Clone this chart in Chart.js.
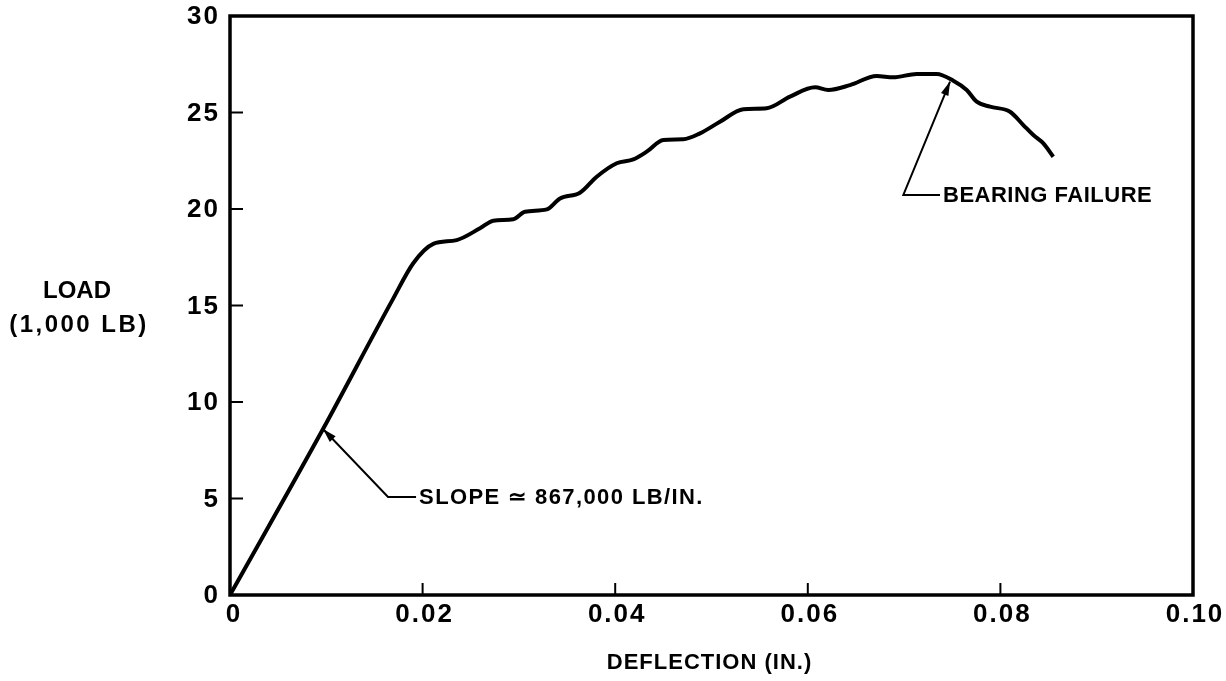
<!DOCTYPE html>
<html>
<head>
<meta charset="utf-8">
<script src="https://cdn.jsdelivr.net/npm/chart.js@4/dist/chart.umd.min.js"></script>
<style>
  html, body { margin: 0; padding: 0; background: #fff; }
  #wrap { width: 1226px; height: 681px; }
</style>
</head>
<body>
<div id="wrap"><canvas id="myChart" width="1226" height="681"></canvas></div>
<script>
// DATA
const deflection = [0, 0.00966, 0.01696, 0.01903, 0.02111, 0.02354, 0.02596, 0.02734, 0.02942, 0.03063,
  0.03289, 0.03427, 0.03634, 0.03808, 0.04016, 0.04188, 0.04327, 0.04500, 0.04707, 0.04881,
  0.05088, 0.05330, 0.05573, 0.05815, 0.06075, 0.06213, 0.06438, 0.06715, 0.06888, 0.07131,
  0.07338, 0.07511, 0.07650, 0.07754, 0.07892, 0.08100, 0.08238, 0.08342, 0.08446, 0.08549];
const load = [0, 8.6, 15.37, 17.19, 18.19, 18.39, 19.0, 19.39, 19.47, 19.86,
  19.98, 20.55, 20.84, 21.67, 22.37, 22.57, 22.97, 23.58, 23.61, 23.92,
  24.52, 25.17, 25.22, 25.82, 26.31, 26.17, 26.42, 26.89, 26.82, 27.0,
  27.0, 26.65, 26.17, 25.56, 25.30, 25.04, 24.35, 23.83, 23.40, 22.71];

const xTicks = [0, 0.02, 0.04, 0.06, 0.08, 0.10];
const xTickLabels = ["0", "0.02", "0.04", "0.06", "0.08", "0.10"];
const yTicks = [0, 5, 10, 15, 20, 25, 30];
const yTickLabels = ["0", "5", "10", "15", "20", "25", "30"];

const xTitle = "DEFLECTION (IN.)";
const yTitle = ["LOAD", "(1,000 LB)"];

// callouts: arrow tip on the curve, elbow, end of leader, text
const callouts = [
  { tip: [0.00966, 8.6], elbow: [0.01641, 5.08], end: [0.01932, 5.08], text: "SLOPE \u2243 867,000 LB/IN.", spacing: "1.4px" },
  { tip: [0.07477, 26.6], elbow: [0.06992, 20.73], end: [0.07373, 20.73], text: "BEARING FAILURE", spacing: "0.5px" }
];

const FAMILY = "'Liberation Sans', Arial, sans-serif";

function arrowHead(ctx, fx, fy, tx, ty) {
  const a = Math.atan2(ty - fy, tx - fx);
  const len = 14, w = 4;
  ctx.beginPath();
  ctx.moveTo(tx, ty);
  ctx.lineTo(tx - len * Math.cos(a) + w * Math.sin(a), ty - len * Math.sin(a) - w * Math.cos(a));
  ctx.lineTo(tx - len * Math.cos(a) - w * Math.sin(a), ty - len * Math.sin(a) + w * Math.cos(a));
  ctx.closePath();
  ctx.fill();
}

// frame, ticks, labels, callouts
const drawPlugin = {
  id: "drawPlugin",
  afterDraw(chart) {
    const ctx = chart.ctx;
    const area = chart.chartArea;
    const xs = chart.scales.x;
    const ys = chart.scales.y;
    ctx.save();
    ctx.strokeStyle = "#000";
    ctx.fillStyle = "#000";

    // frame
    ctx.lineWidth = 3.5;
    ctx.strokeRect(area.left, area.top, area.right - area.left, area.bottom - area.top);

    // inner ticks
    ctx.lineWidth = 2;
    yTicks.forEach(v => {
      if (v === 0 || v === 30) return;
      const py = ys.getPixelForValue(v);
      ctx.beginPath();
      ctx.moveTo(area.left, py);
      ctx.lineTo(area.left + 13, py);
      ctx.stroke();
    });
    xTicks.forEach(v => {
      if (v === 0 || v === 0.10) return;
      const px = xs.getPixelForValue(v);
      ctx.beginPath();
      ctx.moveTo(px, area.bottom);
      ctx.lineTo(px, area.bottom - 12);
      ctx.stroke();
    });

    // tick labels
    ctx.font = "bold 26px " + FAMILY;
    ctx.letterSpacing = "2px";
    ctx.textAlign = "right";
    ctx.textBaseline = "middle";
    yTicks.forEach((v, i) => {
      ctx.fillText(yTickLabels[i], area.left - 10, ys.getPixelForValue(v) + 1);
    });
    ctx.textAlign = "center";
    ctx.textBaseline = "top";
    xTicks.forEach((v, i) => {
      ctx.fillText(xTickLabels[i], xs.getPixelForValue(v) + (i === 0 ? 4 : 2), area.bottom + 7);
    });

    // axis titles
    ctx.textBaseline = "middle";
    ctx.font = "bold 22px " + FAMILY;
    ctx.letterSpacing = "1px";
    ctx.fillText(xTitle, (area.left + area.right) / 2 - 2, 663);
    ctx.font = "bold 24px " + FAMILY;
    ctx.letterSpacing = "0px";
    ctx.fillText(yTitle[0], 77, 291);
    ctx.letterSpacing = "2.5px";
    ctx.fillText(yTitle[1], 79, 325);

    // callouts
    ctx.lineWidth = 2;
    ctx.textAlign = "left";
    ctx.font = "bold 22px " + FAMILY;
    callouts.forEach(c => {
      const t = [xs.getPixelForValue(c.tip[0]), ys.getPixelForValue(c.tip[1])];
      const e = [xs.getPixelForValue(c.elbow[0]), ys.getPixelForValue(c.elbow[1])];
      const n = [xs.getPixelForValue(c.end[0]), ys.getPixelForValue(c.end[1])];
      ctx.beginPath();
      ctx.moveTo(n[0], n[1]);
      ctx.lineTo(e[0], e[1]);
      ctx.lineTo(t[0], t[1]);
      ctx.stroke();
      arrowHead(ctx, e[0], e[1], t[0], t[1]);
      ctx.letterSpacing = c.spacing;
      ctx.fillText(c.text, n[0] + 3, n[1] + 1);
    });
    ctx.restore();
  }
};

const ctx = document.getElementById("myChart").getContext("2d");
const chart = new Chart(ctx, {
  type: "line",
  data: {
    datasets: [{
      data: deflection.map((d, i) => ({ x: d, y: load[i] })),
      borderColor: "#000",
      borderWidth: 4,
      pointRadius: 0,
      fill: false,
      cubicInterpolationMode: "monotone"
    }]
  },
  options: {
    responsive: false,
    animation: false,
    layout: { padding: { left: 230, right: 33, top: 16, bottom: 86 } },
    plugins: { legend: { display: false }, tooltip: { enabled: false } },
    scales: {
      x: { type: "linear", min: 0, max: 0.10, display: false },
      y: { type: "linear", min: 0, max: 30, display: false }
    }
  },
  plugins: [drawPlugin]
});
</script>
</body>
</html>
